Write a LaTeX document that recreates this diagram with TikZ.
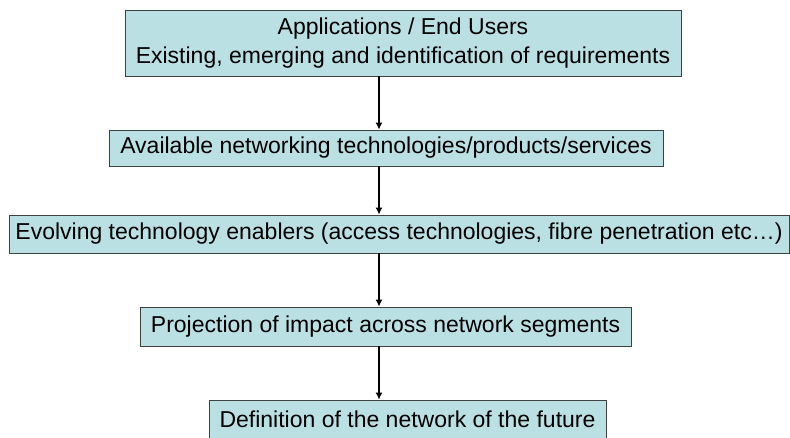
\documentclass[tikz,border=0pt]{standalone}
\usepackage{fontspec}
\setmainfont{Liberation Sans}
\usetikzlibrary{arrows.meta}
\definecolor{boxfill}{RGB}{187,224,227}
\definecolor{boxline}{RGB}{64,64,64}
\begin{document}
\begin{tikzpicture}[x=1pt,y=-1pt]
	\tikzset{stage box/.style={draw=boxline,line width=0.8pt,fill=boxfill,rectangle,inner sep=0pt,align=center,font=\fontsize{23}{29.5}\selectfont}}
	\tikzset{flow arrow/.style={line width=1.5pt,-{Latex[length=7pt,width=7pt]}}}
	\useasboundingbox (0,0) rectangle (790,437);
	\clip (0,0) rectangle (790,437);
	\node [stage box,minimum width=556pt,minimum height=66pt] (apps) at (403,43)		{Applications / End Users\\Existing, emerging and identification of requirements};
	\node [stage box,minimum width=554pt,minimum height=36pt] (avail) at (386,148)		{Available networking technologies/products/services};
	\node [stage box,minimum width=780pt,minimum height=38pt] (enablers) at (399,234)	{Evolving technology enablers (access technologies, fibre penetration etc\ldots)};
	\node [stage box,minimum width=491pt,minimum height=39pt] (impact) at (385.5,326.5)	{Projection of impact across network segments};
	\node [stage box,minimum width=397pt,minimum height=38pt] (future) at (407.5,419)	{Definition of the network of the future};
	\coordinate (axis) at (379,0);
	\draw [flow arrow] (apps.south -| axis)		-- (avail.north -| axis);
	\draw [flow arrow] (avail.south -| axis)	-- (enablers.north -| axis);
	\draw [flow arrow] (enablers.south -| axis)	-- (impact.north -| axis);
	\draw [flow arrow] (impact.south -| axis)	-- (future.north -| axis);
\end{tikzpicture}
\end{document}
